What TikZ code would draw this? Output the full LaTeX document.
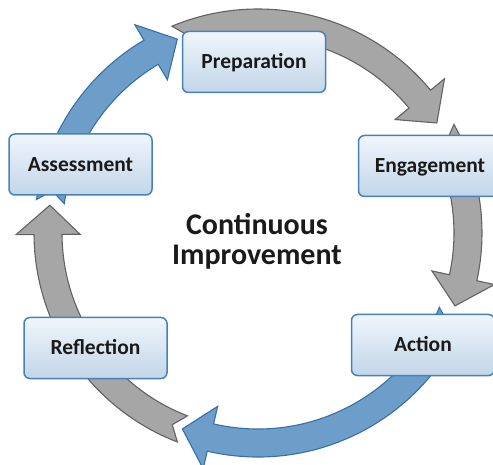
\documentclass[tikz,border=0pt]{standalone}
\usepackage{fontspec}
\setmainfont{Carlito}
\definecolor{boxtop}{RGB}{240,246,252}
\definecolor{boxbottom}{RGB}{194,213,232}
\definecolor{boxborder}{RGB}{70,130,185}
\definecolor{bluefill}{RGB}{108,158,201}
\definecolor{blueborder}{RGB}{55,112,168}
\definecolor{grayfill}{RGB}{166,166,166}
\definecolor{grayborder}{RGB}{98,98,98}
\definecolor{txt}{RGB}{26,26,26}
\newcommand\cyclearrow[4]{%
  \filldraw[fill=#3, draw=#4, line width=1.1pt, line join=miter]
    (#1:224pt) arc[start angle=#1, end angle={#2+8}, radius=224pt]
    -- ({#2+8}:242pt) -- (#2:210pt) -- ({#2+8}:178pt) -- ({#2+8}:196pt)
    arc[start angle={#2+8}, end angle=#1, radius=196pt]
    -- ({#1-3}:210pt) -- cycle;}
\tikzset{
  stagebox/.style={draw=boxborder, line width=1.5pt, rounded corners=6pt,
    top color=boxtop, bottom color=boxbottom,
    minimum width=143pt, minimum height=61pt,
    text=txt, font=\fontsize{21.5}{25}\selectfont\bfseries,
    text height=13.8pt, text depth=0pt, inner sep=0pt},
  titletext/.style={align=center, text=txt,
    font=\fontsize{30}{30}\selectfont\bfseries}
}
\begin{document}
\begin{tikzpicture}
\useasboundingbox (0,0) rectangle (493pt,-465pt);
\fill[white] (0,0) rectangle (493pt,-465pt);
\begin{scope}[shift={(258pt,-233pt)}]
  \cyclearrow{171.4}{112.6}{bluefill}{blueborder}
  \cyclearrow{112.6}{31.6}{grayfill}{grayborder}
  \cyclearrow{29}{-20.3}{grayfill}{grayborder}
  \cyclearrow{-22.3}{-111.1}{bluefill}{blueborder}
  \cyclearrow{248.9}{172.4}{grayfill}{grayborder}
\end{scope}
\node[stagebox] (prep) at (254pt,-62pt) {Preparation};
\node[stagebox] (eng) at (430pt,-166pt) {Engagement};
\node[stagebox] (act) at (423pt,-345pt) {Action};
\node[stagebox] (refl) at (95.5pt,-348pt) {Reflection};
\node[stagebox] (assess) at (80.5pt,-164.5pt) {Assessment};
\node[titletext] (title) at (257pt,-241pt) {Continuous\\Improvement};
\end{tikzpicture}
\end{document}
